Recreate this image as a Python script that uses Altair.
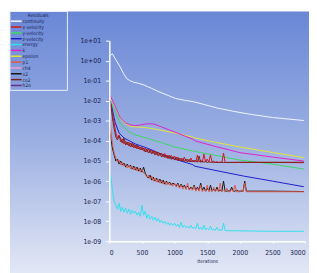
import altair as alt
import pandas as pd

# ---------------- data ----------------
series_names = ["continuity", "x-velocity", "y-velocity", "z-velocity", "energy", "k",
                "epsilon", "p1", "ch4", "o2", "co2", "h2o"]
series_colors = ["#f4f6ff", "#d21818", "#3cd860", "#1c1cc8", "#30e0ea", "#e020c8",
                 "#e6e632", "#e05848", "#f0a0c8", "#141414", "#7a2222", "#6a2c8a"]

x_ticks = [0, 500, 1000, 1500, 2000, 2500, 3000]
y_ticks = [1e-9, 1e-8, 1e-7, 1e-6, 1e-5, 1e-4, 1e-3, 1e-2, 1e-1, 1e0, 1e1]

# smooth residuals (iteration, log10 residual)
continuity_it = [0, 15, 45, 100, 165, 220, 270, 320, 373, 450, 523, 650, 761, 900, 1015,
                 1150, 1284, 1450, 1657, 1900, 2164, 2500, 2980]
continuity_lg = [0.2, 0.25, 0.35, 0.05, -0.3, -0.65, -0.9, -1.0, -1.07, -1.13, -1.2, -1.38,
                 -1.55, -1.73, -1.88, -1.97, -2.04, -2.18, -2.36, -2.52, -2.67, -2.83, -2.98]

epsilon_it = [0, 30, 100, 165, 250, 320, 400, 523, 650, 800, 1000, 1270, 1320, 1600, 2000, 2500, 2980]
epsilon_lg = [-1.75, -1.9, -2.4, -2.85, -3.15, -3.27, -3.3, -3.32, -3.38, -3.47, -3.6, -3.8,
              -3.85, -4.05, -4.3, -4.57, -4.83]

k_it = [0, 30, 100, 165, 250, 320, 400, 480, 560, 640, 700, 800, 1000, 1270, 1320, 1600, 2000, 2500, 2980]
k_lg = [-1.7, -1.85, -2.35, -2.83, -3.1, -3.2, -3.23, -3.2, -3.15, -3.14, -3.17, -3.3, -3.55,
        -3.9, -4.0, -4.25, -4.58, -4.8, -5.0]

yvel_it = [0, 30, 100, 150, 200, 315, 400, 570, 820, 1000, 1270, 1600, 2000, 2500, 2980]
yvel_lg = [-1.95, -2.1, -2.6, -3.0, -3.25, -3.56, -3.7, -3.85, -4.1, -4.3, -4.49, -4.7,
           -4.95, -5.15, -5.4]

zvel_it = [0, 30, 90, 150, 225, 400, 570, 820, 1000, 1270, 1314, 1600, 2060, 2500, 2980]
zvel_lg = [-1.95, -2.2, -3.08, -3.6, -3.85, -4.15, -4.34, -4.68, -4.9, -5.17, -5.26, -5.45,
           -5.75, -6.0, -6.28]

# noisy residuals, sampled every 25 iterations, then a few points on the flat tail
it_1800 = list(range(0, 1801, 25))
it_2100 = list(range(0, 2101, 25))

xvel_lg = [-2.0, -2.3, -2.7, -3.1, -3.6, -3.85, -3.7, -4.05, -3.9, -4.15,
           -4.0, -4.2, -4.05, -4.3, -4.1, -4.35, -4.2, -4.4, -4.25, -4.45,
           -4.3, -4.5, -4.35, -4.55, -4.4, -4.6, -4.45, -4.62, -4.5, -4.68,
           -4.55, -4.72, -4.6, -4.8, -4.62, -4.85, -4.7, -4.88, -4.72, -4.9,
           -4.75, -4.95, -4.8, -4.98, -4.85, -5.0, -4.8, -5.02, -4.9, -5.05,
           -4.85, -5.05, -4.95, -5.05, -4.7, -5.05, -4.95, -5.06, -4.65, -5.05,
           -4.9, -5.06, -4.7, -5.06, -5.0, -5.07, -5.03, -5.07, -5.05, -5.07,
           -4.6, -5.07, -5.07]
xvel_tail_it = [2000, 2500, 2980]
xvel_tail_lg = [-5.07, -5.07, -5.08]

co2_lg = [-1.9, -2.2, -2.9, -3.4, -3.8, -3.95, -3.75, -3.9, -4.1, -3.85,
          -4.2, -4.05, -4.25, -4.1, -4.3, -4.15, -4.35, -4.2, -4.4, -4.3,
          -4.45, -4.35, -4.55, -4.4, -4.6, -4.45, -4.65, -4.5, -4.7, -4.55,
          -4.75, -4.6, -4.8, -4.65, -4.82, -4.7, -4.88, -4.72, -4.92, -4.78,
          -4.95, -4.8, -4.98, -4.85, -5.0, -4.88, -5.02, -4.9, -5.04, -4.92,
          -5.05, -4.95, -5.05, -4.97, -5.06, -4.75, -5.06, -5.0, -5.06, -5.02,
          -5.07, -5.03, -5.07, -5.05, -5.07, -5.06, -5.07, -5.07, -5.07, -5.07,
          -5.07, -5.07, -5.07]
co2_tail_it = [2000, 2500, 2980]
co2_tail_lg = [-5.06, -5.06, -5.06]

o2_lg = [-3.3, -3.9, -4.4, -4.7, -5.0, -4.9, -5.15, -5.0, -5.2, -5.1,
         -5.3, -5.15, -5.3, -5.2, -5.4, -5.25, -5.45, -5.3, -5.5, -5.35,
         -5.55, -5.3, -5.6, -5.75, -5.85, -5.7, -5.95, -5.8, -6.0, -5.85,
         -6.05, -5.9, -6.1, -5.95, -6.15, -6.0, -6.15, -6.05, -6.2, -6.1,
         -6.15, -6.25, -6.1, -6.3, -6.15, -6.3, -6.2, -6.35, -6.25, -6.4,
         -6.3, -6.4, -6.2, -6.45, -6.3, -6.45, -6.1, -6.45, -6.3, -6.5,
         -6.35, -6.5, -6.2, -6.5, -6.4, -6.5, -6.3, -6.5, -6.45, -6.5,
         -6.0, -6.5, -6.5, -6.48, -6.5, -6.3, -6.5, -6.5, -6.45, -6.5,
         -6.5, -6.5, -6.5, -6.0, -6.5]
o2_tail_it = [2500, 2980]
o2_tail_lg = [-6.5, -6.52]

p1_lg = [-2.8, -3.5, -4.2, -4.6, -4.85, -5.05, -4.95, -5.2, -5.05, -5.25,
         -5.15, -5.35, -5.2, -5.4, -5.25, -5.45, -5.3, -5.5, -5.35, -5.55,
         -5.4, -5.6, -5.65, -5.8, -5.7, -5.9, -5.75, -6.0, -5.85, -6.05,
         -5.9, -6.1, -5.95, -6.15, -6.0, -6.2, -6.05, -6.2, -6.1, -6.25,
         -6.1, -6.3, -6.15, -6.35, -6.2, -6.4, -6.25, -6.42, -6.1, -6.45,
         -6.35, -6.45, -6.25, -6.5, -6.35, -6.5, -6.2, -6.52, -6.4, -6.52,
         -6.2, -6.52, -6.45, -6.52, -6.3, -6.52, -6.4, -6.53, -6.1, -6.53,
         -6.45, -6.53, -6.35, -6.53, -6.53, -6.4, -6.53, -6.2, -6.53, -6.53,
         -6.53, -6.45, -6.53, -6.1, -6.53]
p1_tail_it = [2500, 2980]
p1_tail_lg = [-6.53, -6.53]

energy_lg = [-5.6, -5.8, -6.5, -7.0, -7.2, -7.4, -7.1, -7.5, -7.3, -7.55,
             -7.35, -7.6, -7.4, -7.65, -7.45, -7.6, -7.5, -7.7, -7.55, -7.75,
             -7.2, -7.7, -7.5, -7.85, -7.65, -7.9, -7.75, -7.95, -7.8, -8.0,
             -7.85, -8.05, -7.95, -8.1, -8.0, -8.15, -8.05, -8.2, -8.1, -8.2,
             -8.1, -8.25, -8.15, -8.3, -8.05, -8.3, -8.2, -8.32, -8.25, -8.35,
             -8.2, -8.35, -8.3, -8.38, -8.1, -8.4, -8.3, -8.42, -8.2, -8.42,
             -8.35, -8.43, -8.25, -8.44, -8.4, -8.45, -8.3, -8.45, -8.42, -8.46,
             -8.1, -8.46, -8.47]
energy_tail_it = [2000, 2500, 2980]
energy_tail_lg = [-8.48, -8.5, -8.5]

# ---------------- table ----------------
rows = []
def add(name, its, lgs):
    for i, v in zip(its, lgs):
        rows.append({"series": name, "iteration": i, "residual": 10 ** v})

add("continuity", continuity_it, continuity_lg)
add("epsilon", epsilon_it, epsilon_lg)
add("k", k_it, k_lg)
add("y-velocity", yvel_it, yvel_lg)
add("z-velocity", zvel_it, zvel_lg)
add("x-velocity", it_1800 + xvel_tail_it, xvel_lg + xvel_tail_lg)
add("co2", it_1800 + co2_tail_it, co2_lg + co2_tail_lg)
add("o2", it_2100 + o2_tail_it, o2_lg + o2_tail_lg)
add("p1", it_2100 + p1_tail_it, p1_lg + p1_tail_lg)
add("energy", it_1800 + energy_tail_it, energy_lg + energy_tail_lg)
df = pd.DataFrame(rows)

legend_df = pd.DataFrame({"series": series_names, "idx": list(range(len(series_names)))})
one = pd.DataFrame({"a": [0]})

LABEL_FONT = "Liberation Sans Narrow, DejaVu Sans Condensed, sans-serif"
NAVY = "#1b2352"

color_scale = alt.Scale(domain=series_names, range=series_colors)

bg = alt.Chart(one).mark_rect(
    fill=alt.Gradient(
        gradient="linear", x1=0, y1=0, x2=0, y2=1,
        stops=[alt.GradientStop(color="#6987d6", offset=0),
               alt.GradientStop(color="#9cb0e2", offset=0.5),
               alt.GradientStop(color="#e3e8f5", offset=1)],
    )
).encode(x=alt.value(-102), x2=alt.value(205), y=alt.value(-30), y2=alt.value(240))

box = alt.Chart(one).mark_rect(fillOpacity=0, stroke="#eef2ff", strokeWidth=1).encode(
    x=alt.value(-102), x2=alt.value(-43), y=alt.value(-30), y2=alt.value(51)
)

header = alt.Chart(one).mark_text(
    text="Residuals", fontSize=5, font=LABEL_FONT, color=NAVY, align="center", baseline="middle"
).encode(x=alt.value(-73), y=alt.value(-26))

y_lab = ("'1e' + (datum.value >= 1 ? '+' : '-') + "
         "(abs(round(log(datum.value)/LN10)) < 10 ? '0' : '') + abs(round(log(datum.value)/LN10))")

lines = alt.Chart(df).mark_line(strokeWidth=1, clip=True).encode(
    x=alt.X("iteration:Q", scale=alt.Scale(domain=[0, 3000], nice=False),
            axis=alt.Axis(values=x_ticks, title="Iterations", format="d", zindex=2,
                          tickSize=2, labelPadding=6)),
    y=alt.Y("residual:Q", scale=alt.Scale(type="log", domain=[1e-9, 10], nice=False),
            axis=alt.Axis(values=y_ticks, labelExpr=y_lab, title=None, zindex=2,
                          tickSize=4, labelPadding=5)),
    color=alt.Color("series:N", scale=color_scale, legend=None),
    order="iteration:Q",
)

leg_y = alt.Y("idx:Q", scale=alt.Scale(domain=[0, 11], range=[-20, 46]), axis=None)
leg_rules = alt.Chart(legend_df).mark_rule(strokeWidth=1.5).encode(
    x=alt.value(-101), x2=alt.value(-90), y=leg_y,
    color=alt.Color("series:N", scale=color_scale, legend=None),
)
leg_text = alt.Chart(legend_df).mark_text(
    align="left", baseline="middle", fontSize=5, font=LABEL_FONT, color=NAVY
).encode(x=alt.value(-89), y=leg_y, text="series:N")

chart = alt.layer(bg, box, header, lines, leg_rules, leg_text).resolve_scale(
    y="independent"
).properties(
    width=201, height=206,
    autosize=alt.AutoSizeParams(type="none"),
    padding={"left": 104, "top": 30, "right": 4, "bottom": 29},
    background="white",
).configure_view(strokeWidth=0).configure_axis(
    grid=False,
    domainColor="#ffffff",
    domainWidth=1.5,
    tickColor="#ffffff",
    labelColor=NAVY,
    labelFont=LABEL_FONT,
    labelFontSize=7,
    titleFont=LABEL_FONT,
    titleFontSize=5,
    titleFontWeight="normal",
    titleColor=NAVY,
    titlePadding=3,
)

chart.save("out.html", embed_options={"renderer": "svg", "actions": False})
